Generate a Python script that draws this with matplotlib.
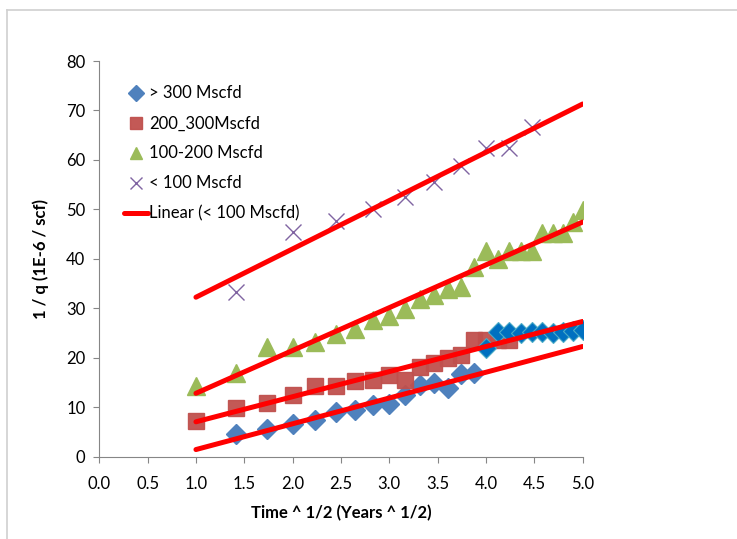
import numpy as np
import matplotlib
matplotlib.use('Agg')
import matplotlib.pyplot as plt
from matplotlib.lines import Line2D

plt.rcParams['font.family'] = ['Lato', 'DejaVu Sans']

# time in years, plotted as sqrt(t)
years_gt300 = [2, 3, 4, 5, 6, 7, 8, 9, 10, 11, 12, 13, 14, 15]
q_gt300 = [4.5, 5.5, 6.6, 7.4, 9.1, 9.4, 10.4, 10.6, 12.5, 14.4, 15.0, 13.9, 16.7, 16.9]

# extra >300 points (no trendline, not in legend)
years_gt300_late = [16, 17, 18, 19, 20, 21, 22, 23, 24, 25]
q_gt300_late = [22.0, 25.2, 25.2, 25.1, 25.2, 25.2, 25.0, 25.2, 25.4, 25.6]

years_200_300 = [1, 2, 3, 4, 5, 6, 7, 8, 9, 10, 11, 12, 13, 14, 15, 16, 17, 18]
q_200_300 = [7.3, 9.9, 10.9, 12.4, 14.2, 14.2, 15.3, 15.5, 16.5, 15.5, 18.2, 19.0,
             19.9, 20.6, 23.6, 23.6, 23.6, 23.5]

years_100_200 = list(range(1, 26))
q_100_200 = [14.2, 16.9, 22.1, 22.1, 23.1, 24.8, 25.8, 27.7, 28.5, 29.9, 31.9, 32.7,
             33.9, 34.3, 38.3, 41.5, 40.0, 41.5, 41.5, 41.5, 45.3, 45.3, 45.3, 47.4, 49.8]

years_lt100 = [2, 4, 6, 8, 10, 12, 14, 16, 18, 20]
q_lt100 = [33.3, 45.5, 47.6, 50.0, 52.6, 55.6, 58.8, 62.5, 62.5, 66.7]

labels = ['> 300 Mscfd', '200_300Mscfd', '100-200 Mscfd', '< 100 Mscfd']
trend_range = [1.0, 5.0]

fig = plt.figure(figsize=(7.37, 5.39), dpi=100)
ax = fig.add_axes([0.1347, 0.1527, 0.6558, 0.7341])

series = [
    (years_gt300, q_gt300, dict(marker='D', color='#4F81BD', ms=10)),
    (years_200_300, q_200_300, dict(marker='s', color='#C0504D', ms=12, alpha=0.95)),
    (years_100_200, q_100_200, dict(marker='^', color='#9BBB59', ms=12.5)),
    (years_lt100, q_lt100, dict(marker='x', color='#8064A2', ms=11.5, mew=1.0)),
]

handles = []
for (yrs, q, style), lab in zip(series, labels):
    x = np.sqrt(yrs)
    h, = ax.plot(x, q, linestyle='none', label=lab, zorder=3, **style)
    handles.append(h)

ax.plot(np.sqrt(years_gt300_late), q_gt300_late, linestyle='none', marker='D',
        color='#0070C0', mec='#4BACC6', mew=0.8, ms=10, zorder=3)

# linear trendlines
xt = np.array(trend_range)
trend = None
for yrs, q, _ in series:
    k, b = np.polyfit(np.sqrt(yrs), q, 1)
    trend, = ax.plot(xt, k * xt + b, color='#FF0000', lw=3.6,
                     solid_capstyle='round', zorder=4)
trend.set_label('Linear (< 100 Mscfd)')
handles.append(trend)

ax.set_xlim(0, 5)
ax.set_ylim(0, 80)
ax.set_xticks(np.arange(0, 5.01, 0.5))
ax.set_xticklabels([f"{v:.1f}" for v in np.arange(0, 5.01, 0.5)])
ax.set_yticks(range(0, 81, 10))

for s in ['top', 'right']:
    ax.spines[s].set_visible(False)
for s in ['left', 'bottom']:
    ax.spines[s].set_color('#868686')
    ax.spines[s].set_linewidth(0.8)
ax.tick_params(direction='out', length=4, width=0.8, color='#868686',
               labelsize=12, labelcolor='black')
ax.tick_params(axis='x', pad=10)
ax.tick_params(axis='y', pad=6)

ax.set_xlabel('Time ^ 1/2 (Years ^ 1/2)', fontsize=12, fontweight='bold', labelpad=9)
ax.set_ylabel('1 / q (1E-6 / scf)', fontsize=12, fontweight='bold', labelpad=12)

leg = ax.legend(handles=handles, loc='upper left', bbox_to_anchor=(0.038, 0.955),
                frameon=False, fontsize=12, numpoints=1, handlelength=1.4,
                handletextpad=0.1, labelspacing=0.84, borderaxespad=0)
for lh in leg.legend_handles[:4]:
    lh.set_markersize(8)

# outer chart border
bx0, by1 = 7 / 737, 1 - 10 / 539
fig.add_artist(Line2D([bx0, bx0], [-0.1, by1], color='#D0D0D0', lw=1.2))
fig.add_artist(Line2D([bx0, 1.1], [by1, by1], color='#D0D0D0', lw=1.2))

plt.savefig('out.png', dpi=100)
